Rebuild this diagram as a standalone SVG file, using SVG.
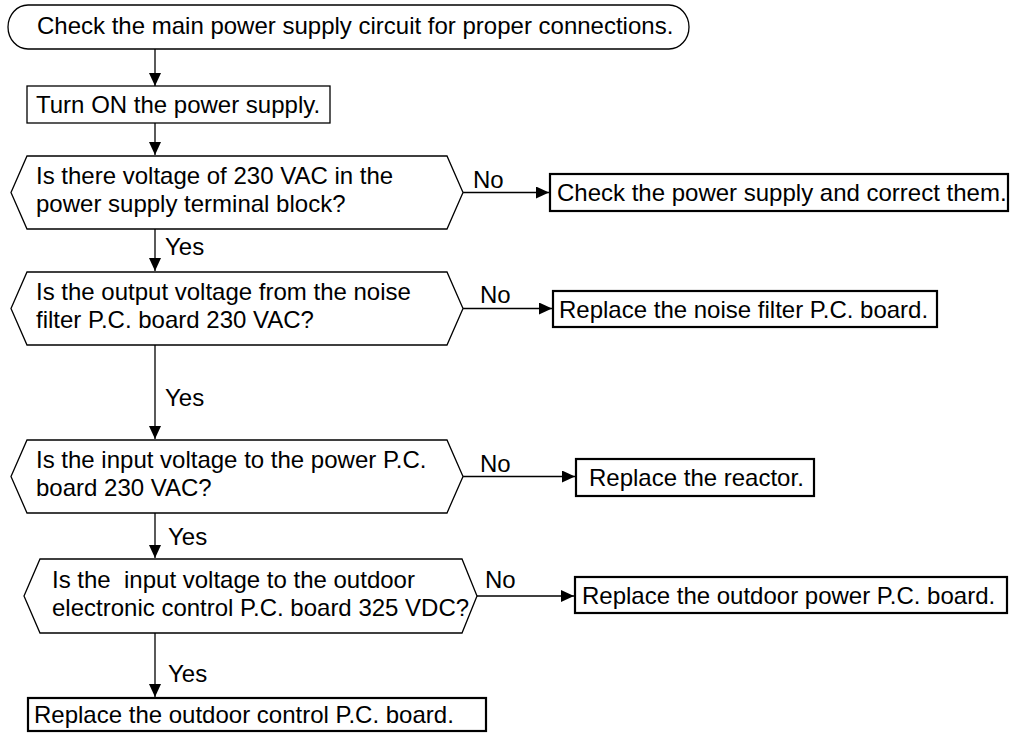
<svg xmlns="http://www.w3.org/2000/svg" width="1010" height="733" viewBox="0 0 1010 733">
<defs>
<style>
text{font-family:"Liberation Sans",Arial,sans-serif;font-size:24px;fill:#000;white-space:pre}
.shape{fill:#fff;stroke:#000;stroke-width:1.3}
.box{fill:#fff;stroke:#000;stroke-width:2.2}
.conn{fill:none;stroke:#000;stroke-width:1.3}
</style>
<marker id="ah" viewBox="0 0 13 12" refX="13" refY="6" markerWidth="13" markerHeight="12" markerUnits="userSpaceOnUse" orient="auto"><path d="M0,0 L13,6 L0,12 z" fill="#000"/></marker>
</defs>
<rect width="1010" height="733" fill="#fff"/>
<g id="connectors">
<path class="conn" d="M155,49 V86" marker-end="url(#ah)"/>
<path class="conn" d="M155,123 V155" marker-end="url(#ah)"/>
<path class="conn" d="M155,229 V271" marker-end="url(#ah)"/>
<path class="conn" d="M155,345 V439" marker-end="url(#ah)"/>
<path class="conn" d="M155,513 V558" marker-end="url(#ah)"/>
<path class="conn" d="M155,633 V697" marker-end="url(#ah)"/>
<path class="conn" d="M463,192.5 H549" marker-end="url(#ah)"/>
<path class="conn" d="M463,308.5 H552" marker-end="url(#ah)"/>
<path class="conn" d="M463,476.5 H575" marker-end="url(#ah)"/>
<path class="conn" d="M477,596 H574" marker-end="url(#ah)"/>
<text x="165" y="255">Yes</text>
<text x="165" y="406">Yes</text>
<text x="168" y="545">Yes</text>
<text x="168" y="682">Yes</text>
<text x="473" y="188">No</text>
<text x="480" y="303">No</text>
<text x="480" y="472">No</text>
<text x="485" y="588">No</text>
</g>
<g id="start">
<rect class="shape" x="8" y="5" width="681" height="44" rx="20" ry="22"/>
<text x="37" y="34">Check the main power supply circuit for proper connections.</text>
</g>
<g id="power-on">
<rect class="shape" x="27" y="86" width="303" height="37"/>
<text x="36" y="113">Turn ON the power supply.</text>
</g>
<g id="q1">
<polygon class="shape" points="11,192.5 27,156 447,156 463,192.5 447,229 27,229"/>
<text x="36" y="184">Is there voltage of 230 VAC in the</text>
<text x="36" y="212">power supply terminal block?</text>
</g>
<g id="a1">
<rect class="box" x="550" y="174" width="458" height="37"/>
<text x="557" y="201">Check the power supply and correct them.</text>
</g>
<g id="q2">
<polygon class="shape" points="11,308.5 27,272 447,272 463,308.5 447,345 27,345"/>
<text x="36" y="300">Is the output voltage from the noise</text>
<text x="36" y="328">filter P.C. board 230 VAC?</text>
</g>
<g id="a2">
<rect class="box" x="553" y="291" width="384" height="36"/>
<text x="559" y="318">Replace the noise filter P.C. board.</text>
</g>
<g id="q3">
<polygon class="shape" points="11,476.5 27,440 447,440 463,476.5 447,513 27,513"/>
<text x="36" y="468">Is the input voltage to the power P.C.</text>
<text x="36" y="496">board 230 VAC?</text>
</g>
<g id="a3">
<rect class="box" x="576" y="459" width="238" height="37"/>
<text x="589" y="486">Replace the reactor.</text>
</g>
<g id="q4">
<polygon class="shape" points="24,596 40,559 462,559 477,596 462,633 40,633"/>
<text x="52" y="588">Is the  input voltage to the outdoor</text>
<text x="52" y="616">electronic control P.C. board 325 VDC?</text>
</g>
<g id="a4">
<rect class="box" x="575" y="577" width="432" height="36"/>
<text x="582" y="604">Replace the outdoor power P.C. board.</text>
</g>
<g id="end">
<rect class="box" x="28" y="698" width="458" height="33"/>
<text x="34" y="723">Replace the outdoor control P.C. board.</text>
</g>
</svg>
